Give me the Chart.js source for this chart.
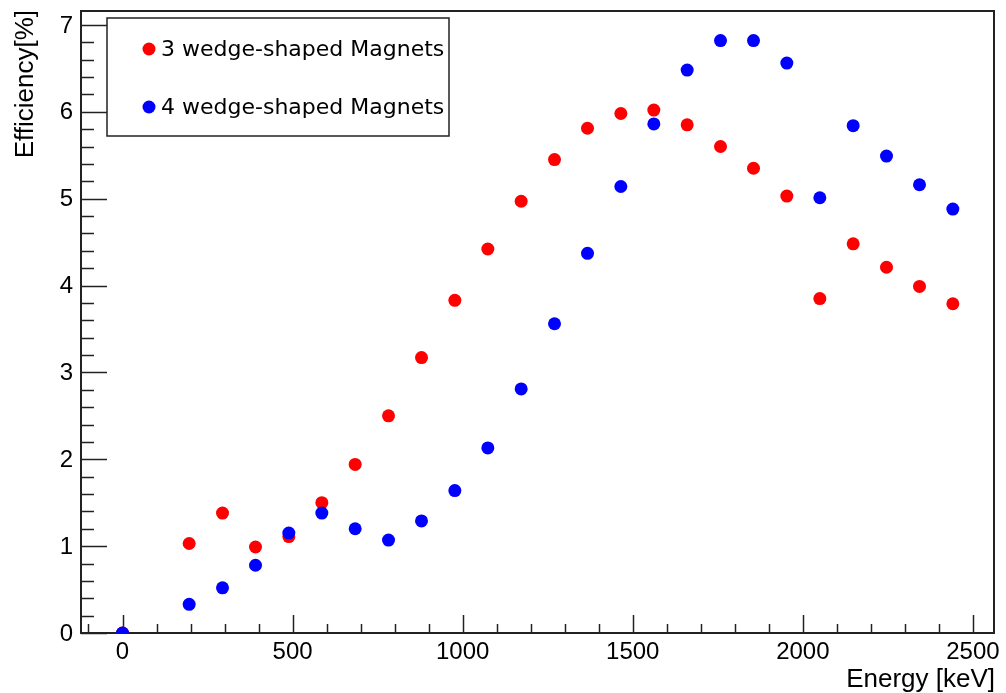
<!DOCTYPE html>
<html>
<head>
<meta charset="utf-8">
<script src="https://cdn.jsdelivr.net/npm/chart.js@4.4.1/dist/chart.umd.min.js"></script>
<style>
  html, body { margin: 0; padding: 0; background: #fff; }
  #c { display: block; }
</style>
</head>
<body>
<canvas id="c" width="1006" height="693"></canvas>
<script>
// Beam energies (keV) and measured efficiencies (%)
const energies = [0, 196, 294, 391, 489, 586, 684, 782, 879, 977, 1074, 1172, 1270,
                  1367, 1465, 1562, 1660, 1758, 1855, 1953, 2050, 2148, 2246, 2343, 2441];
const eff3 = [0, 1.03, 1.38, 0.99, 1.11, 1.50, 1.94, 2.50, 3.17, 3.83, 4.42, 4.97, 5.45,
              5.81, 5.98, 6.02, 5.85, 5.60, 5.35, 5.03, 3.85, 4.48, 4.21, 3.99, 3.79];
const eff4 = [0, 0.33, 0.52, 0.78, 1.15, 1.38, 1.20, 1.07, 1.29, 1.64, 2.13, 2.81, 3.56,
              4.37, 5.14, 5.86, 6.48, 6.82, 6.82, 6.56, 5.01, 5.84, 5.49, 5.16, 4.88];
const seriesLabels = ['3 wedge-shaped Magnets', '4 wedge-shaped Magnets'];
const xTicks = [0, 500, 1000, 1500, 2000, 2500];
const yTicks = [0, 1, 2, 3, 4, 5, 6, 7];
const xTitle = 'Energy [keV]';
const yTitle = 'Efficiency[%]';

const toPoints = (xs, ys) => xs.map((x, i) => ({ x: x, y: ys[i] }));

const TICK_FONT = '24px "Liberation Sans", Arial, sans-serif';
const TITLE_FONT = '26px "Liberation Sans", Arial, sans-serif';
const LEGEND_FONT = '22px "DejaVu Sans", sans-serif';

// Frame, inward tick marks, tick labels and axis titles (drawn under the markers)
const frameAxes = {
  id: 'frameAxes',
  beforeDatasetsDraw(chart) {
    const { ctx, chartArea: a, scales: { x, y } } = chart;
    ctx.save();
    ctx.strokeStyle = '#222';
    ctx.lineWidth = 1.5;
    ctx.beginPath();
    // x ticks
    for (let v = -100; v <= 2500; v += 100) {
      const px = Math.round(x.getPixelForValue(v)) + 0.5;
      const len = (v % 500 === 0) ? 18 : 9;
      ctx.moveTo(px, a.bottom);
      ctx.lineTo(px, a.bottom - len);
    }
    // y ticks
    for (let k = 0; k <= 35; k++) {
      const v = k * 0.2;
      const py = Math.round(y.getPixelForValue(v)) + 0.5;
      const len = (k % 5 === 0) ? 26 : 13;
      ctx.moveTo(a.left, py);
      ctx.lineTo(a.left + len, py);
    }
    ctx.stroke();

    ctx.lineWidth = 2;
    ctx.strokeRect(a.left, a.top, a.right - a.left, a.bottom - a.top);

    ctx.fillStyle = '#000';
    ctx.font = TICK_FONT;
    ctx.textAlign = 'center';
    ctx.textBaseline = 'middle';
    xTicks.forEach(v => ctx.fillText(String(v), x.getPixelForValue(v), 652));
    ctx.textAlign = 'right';
    yTicks.forEach(v => ctx.fillText(String(v), 73, y.getPixelForValue(v) + 1));

    ctx.font = TITLE_FONT;
    ctx.textAlign = 'right';
    ctx.textBaseline = 'alphabetic';
    ctx.fillText(xTitle, a.right + 1, 687);

    ctx.save();
    ctx.translate(33, a.top - 1);
    ctx.rotate(-Math.PI / 2);
    ctx.textAlign = 'right';
    ctx.fillText(yTitle, 0, 0);
    ctx.restore();
    ctx.restore();
  }
};

// Boxed legend in the upper left corner of the frame
const boxLegend = {
  id: 'boxLegend',
  afterDatasetsDraw(chart) {
    const { ctx } = chart;
    const ds = chart.data.datasets;
    ctx.save();
    ctx.fillStyle = '#fff';
    ctx.fillRect(107, 18, 342, 118);
    ctx.strokeStyle = '#222';
    ctx.lineWidth = 1.5;
    ctx.strokeRect(107, 18, 342, 118);
    ctx.font = LEGEND_FONT;
    ctx.textAlign = 'left';
    ctx.textBaseline = 'middle';
    [49, 107].forEach((ty, i) => {
      ctx.fillStyle = ds[i].backgroundColor;
      ctx.beginPath();
      ctx.arc(149, ty, 6.5, 0, Math.PI * 2);
      ctx.fill();
      ctx.fillStyle = '#000';
      ctx.fillText(ds[i].label, 161, ty + 1);
    });
    ctx.restore();
  }
};

new Chart(document.getElementById('c'), {
  type: 'scatter',
  data: {
    datasets: [
      { label: seriesLabels[0], data: toPoints(energies, eff3), backgroundColor: '#ff0000',
        borderWidth: 0, pointRadius: 6.5, pointHoverRadius: 6.5, order: 1 },
      { label: seriesLabels[1], data: toPoints(energies, eff4), backgroundColor: '#0000ff',
        borderWidth: 0, pointRadius: 6.5, pointHoverRadius: 6.5, order: 0 }
    ]
  },
  options: {
    responsive: false,
    animation: false,
    devicePixelRatio: 1,
    layout: { padding: { top: 11, right: 12, left: 0, bottom: 0 } },
    plugins: { legend: { display: false }, tooltip: { enabled: false } },
    scales: {
      x: {
        type: 'linear', min: -122, max: 2562,
        ticks: { display: false }, grid: { display: false, drawTicks: false },
        border: { display: false },
        afterFit(s) { s.height = 60; }
      },
      y: {
        type: 'linear', min: 0, max: 7.16,
        ticks: { display: false }, grid: { display: false, drawTicks: false },
        border: { display: false },
        afterFit(s) { s.width = 81; }
      }
    }
  },
  plugins: [frameAxes, boxLegend]
});
</script>
</body>
</html>
